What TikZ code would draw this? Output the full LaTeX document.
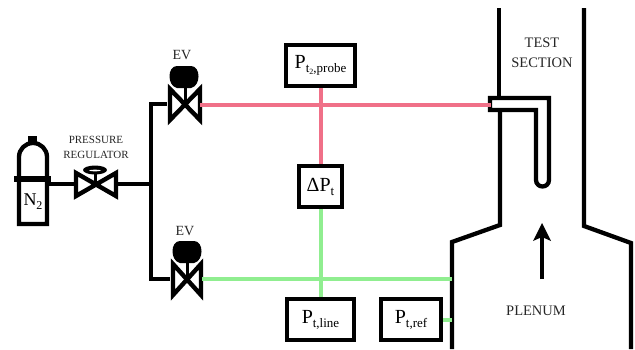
\documentclass[tikz,border=0pt]{standalone}
\usepackage{fontspec}
\setmainfont{Liberation Serif}
\usepackage{tikz}
\definecolor{ProbePink}{RGB}{240, 112, 136}
\definecolor{LineGreen}{RGB}{144, 238, 144}
\newcommand{\subfont}{\fontsize{13}{13}\selectfont}
\tikzset{
  wall/.style={line width=4.3pt,black,line join=miter},
  pipe/.style={line width=4.3pt,black},
  probeline/.style={line width=4pt,ProbePink},
  refline/.style={line width=4pt,LineGreen},
  valve/.style={line width=4.4pt,fill=white,miter limit=8},
  gauge/.style={draw,line width=4.3pt,fill=white,inner sep=0pt,font=\fontsize{20}{20}\selectfont},
  tag/.style={font=\fontsize{14.5}{20}\selectfont,align=center,text=black!85}
}
\begin{document}
\begin{tikzpicture}[x=1pt,y=-1pt]
\useasboundingbox (0,0) rectangle (635,349);
%\draw[help lines,step=50] (0,0) grid (635,349);
% gauges
\node[gauge,minimum width=69pt,minimum height=41pt] (probe) at (320.5,65.5) {P\raisebox{-4pt}{\subfont t\raisebox{-2pt}{\fontsize{8}{8}\selectfont 2},probe}};
\node[gauge,minimum width=43pt,minimum height=41pt] (delta) at (320.5,186.5) {ΔP\raisebox{-4pt}{\subfont t}};
\node[gauge,minimum width=67pt,minimum height=41pt] (line) at (320.5,319.5) {P\raisebox{-4pt}{\subfont t,line}};
\node[gauge,minimum width=60pt,minimum height=41pt] (ref) at (411,319.5) {P\raisebox{-4pt}{\subfont t,ref}};
% coordinates on the lines
\coordinate (upperv) at (167,104);
\coordinate (lowerv) at (170,279);
\coordinate (regin) at (47,184);
\coordinate (regout) at (117,184);
\coordinate (tee) at (151,184);
\coordinate (upperout) at (200,104.5);
\coordinate (lowerout) at (202,279);
\coordinate (pitot) at (491,104.5);
\coordinate (plenwall) at (452,279);
\coordinate (refwall) at (452,319.5);
% black tubing
\draw[pipe] (regin) -- (tee);
\draw[pipe] (upperv) -- (151,104) -- (151,279) -- (lowerv);
% valves
\draw[valve] (76,173) -- (116,196) -- (116,173) -- (76,196) -- cycle;
\draw[line width=3pt] (95,184) -- (95,172);
\fill (95,170) ellipse [x radius=12,y radius=4.5];
\fill[white] (95,170.5) ellipse [x radius=6,y radius=0.8];
\draw[valve] (170,89) -- (200,120) -- (200,89) -- (170,120) -- cycle;
\draw[line width=3pt] (185,104) -- (185,86);
\fill (177,66) -- (191,66) .. controls (201,66) and (201,86) .. (191,88) -- (177,88) .. controls (167,86) and (167,66) .. (177,66);
\draw[valve] (173,264) -- (201,295) -- (201,264) -- (173,295) -- cycle;
\draw[line width=3pt] (187,279) -- (187,261);
\fill (180,241) -- (194,241) .. controls (204,241) and (204,261) .. (194,263) -- (180,263) .. controls (170,261) and (170,241) .. (180,241);
% tunnel
\draw[wall] (452,349) -- (452,242) -- (500,225) -- (500,110);
\draw[wall] (499,98) -- (499,8);
\draw[wall] (584,8) -- (584,226) -- (631,243) -- (631,349);
% pink lines
\draw[probeline] (upperout) -- (pitot);
\draw[probeline] (probe) -- (delta);
% green lines
\draw[refline] (lowerout) -- (plenwall);
\draw[refline] (delta) -- (line);
\draw[refline] (ref) -- (refwall);
% cylinder
\draw[line width=4.3pt,fill=white,line join=miter] (19,224) -- (19,157) arc [start angle=180,end angle=360,radius=14] -- (47,224) -- cycle;
\fill (28,136) rectangle (37,143);
\draw[line width=5.5pt] (14,179) -- (51,179);
\node[font=\fontsize{18}{18}\selectfont] (nitrogen) at (33,202) {N\raisebox{-4pt}{\fontsize{12}{12}\selectfont 2}};
% probe
\draw[line width=4.3pt,fill=white] (490,98) -- (549,98) -- (549,180) arc [start angle=0,end angle=180,radius=6.5] -- (536,110) -- (490,110) -- cycle;
\draw[probeline] (482,104.5) -- (pitot);
% arrow
\draw[line width=4pt] (542,279) -- (542,236);
\fill (542,223) -- (551,241) -- (542,237) -- (533,241) -- cycle;
% labels
\node[tag,font=\fontsize{14}{14}\selectfont] (evtop) at (182,55) {EV};
\node[tag,font=\fontsize{14}{14}\selectfont] (evbottom) at (185,231) {EV};
\node[tag,font=\fontsize{11}{15}\selectfont] (regulator) at (96,147) {PRESSURE\\REGULATOR};
\node[tag] (section) at (542,53) {TEST\\SECTION};
\node[tag] (plenum) at (536,311) {PLENUM};
\end{tikzpicture}
\end{document}
